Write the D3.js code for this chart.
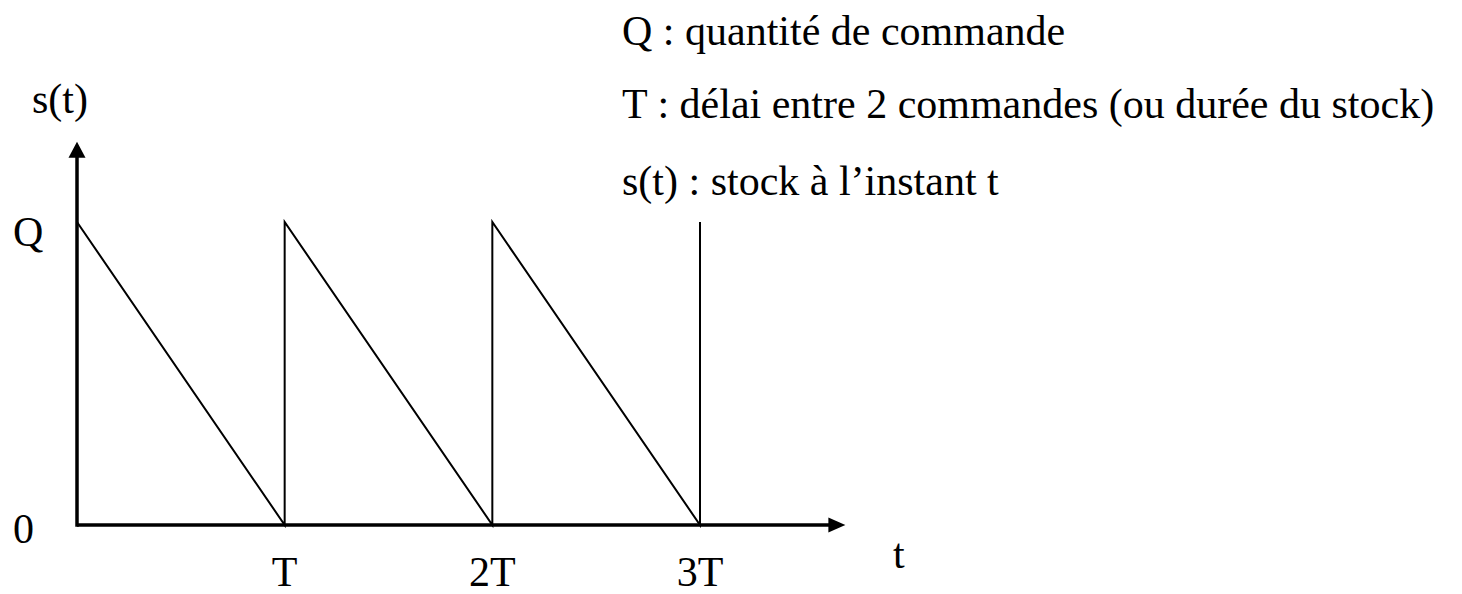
<!DOCTYPE html>
<html>
<head>
<meta charset="utf-8">
<script src="https://cdn.jsdelivr.net/npm/d3@7/dist/d3.min.js"></script>
<style>
  html, body { margin: 0; padding: 0; background: #fff; }
  svg { display: block; }
  text { font-family: "Liberation Serif", "Times New Roman", serif; fill: #000; }
</style>
</head>
<body>
<svg id="chart" width="1462" height="594"></svg>
<script>
// Stock level over time: replenished to Q every period T, depleted linearly.
const sawTimes  = [0, 1, 1, 2, 2, 3, 3];   // time in units of T
const sawLevels = [1, 0, 1, 0, 1, 0, 1];   // stock in units of Q
const xTickValues = [1, 2, 3];
const xTickLabels = ["T", "2T", "3T"];
const yTickValues = [0, 1];
const yTickLabels = ["0", "Q"];
const legendLines = [
  "Q : quantité de commande",
  "T : délai entre 2 commandes (ou durée du stock)",
  "s(t) : stock à l\u2019instant t"
];
const xAxisTitle = "t";
const yAxisTitle = "s(t)";

const svg = d3.select("#chart");

const x = d3.scaleLinear().domain([0, 3]).range([77, 700]);
const y = d3.scaleLinear().domain([0, 1]).range([525, 222]);

const xEnd = 3.7;   // axis extends past the last period
const yEnd = 1.265;

// axes
svg.append("line")
  .attr("x1", x(0)).attr("y1", y(0))
  .attr("x2", x(xEnd) - 16).attr("y2", y(0))
  .attr("stroke", "#000").attr("stroke-width", 3.5);
svg.append("line")
  .attr("x1", x(0)).attr("y1", y(0) + 1.75)
  .attr("x2", x(0)).attr("y2", y(yEnd) + 14)
  .attr("stroke", "#000").attr("stroke-width", 3.5);

// arrowheads
const ax = x(xEnd), ay = y(0);
svg.append("path")
  .attr("d", `M${ax},${ay} L${ax - 17},${ay - 7.5} L${ax - 17},${ay + 7.5} Z`)
  .attr("fill", "#000");
const bx = x(0), by = y(yEnd);
svg.append("path")
  .attr("d", `M${bx},${by} L${bx - 8.5},${by + 16} L${bx + 8.5},${by + 16} Z`)
  .attr("fill", "#000");

// sawtooth
const line = d3.line().x(d => x(d[0])).y(d => y(d[1]));
svg.append("path")
  .datum(d3.zip(sawTimes, sawLevels))
  .attr("d", line)
  .attr("fill", "none")
  .attr("stroke", "#000")
  .attr("stroke-width", 2)
  .attr("stroke-linejoin", "miter");

const fs = 42;

// x tick labels
svg.selectAll("text.xt")
  .data(xTickValues)
  .join("text")
  .attr("class", "xt")
  .attr("x", d => x(d))
  .attr("y", 586)
  .attr("text-anchor", "middle")
  .attr("font-size", fs)
  .text((d, i) => xTickLabels[i]);

// y tick labels
svg.selectAll("text.yt")
  .data(yTickValues)
  .join("text")
  .attr("class", "yt")
  .attr("x", 13)
  .attr("y", d => y(d) + (d === 0 ? 18 : 24))
  .attr("font-size", fs)
  .text((d, i) => yTickLabels[i]);

// axis titles
svg.append("text")
  .attr("x", 893).attr("y", 568)
  .attr("font-size", fs)
  .text(xAxisTitle);
svg.append("text")
  .attr("x", 32).attr("y", 113)
  .attr("font-size", fs)
  .text(yAxisTitle);

// legend
svg.selectAll("text.leg")
  .data(legendLines)
  .join("text")
  .attr("class", "leg")
  .attr("x", 622)
  .attr("y", (d, i) => [45, 118, 195][i])
  .attr("font-size", fs)
  .text(d => d);
</script>
</body>
</html>
